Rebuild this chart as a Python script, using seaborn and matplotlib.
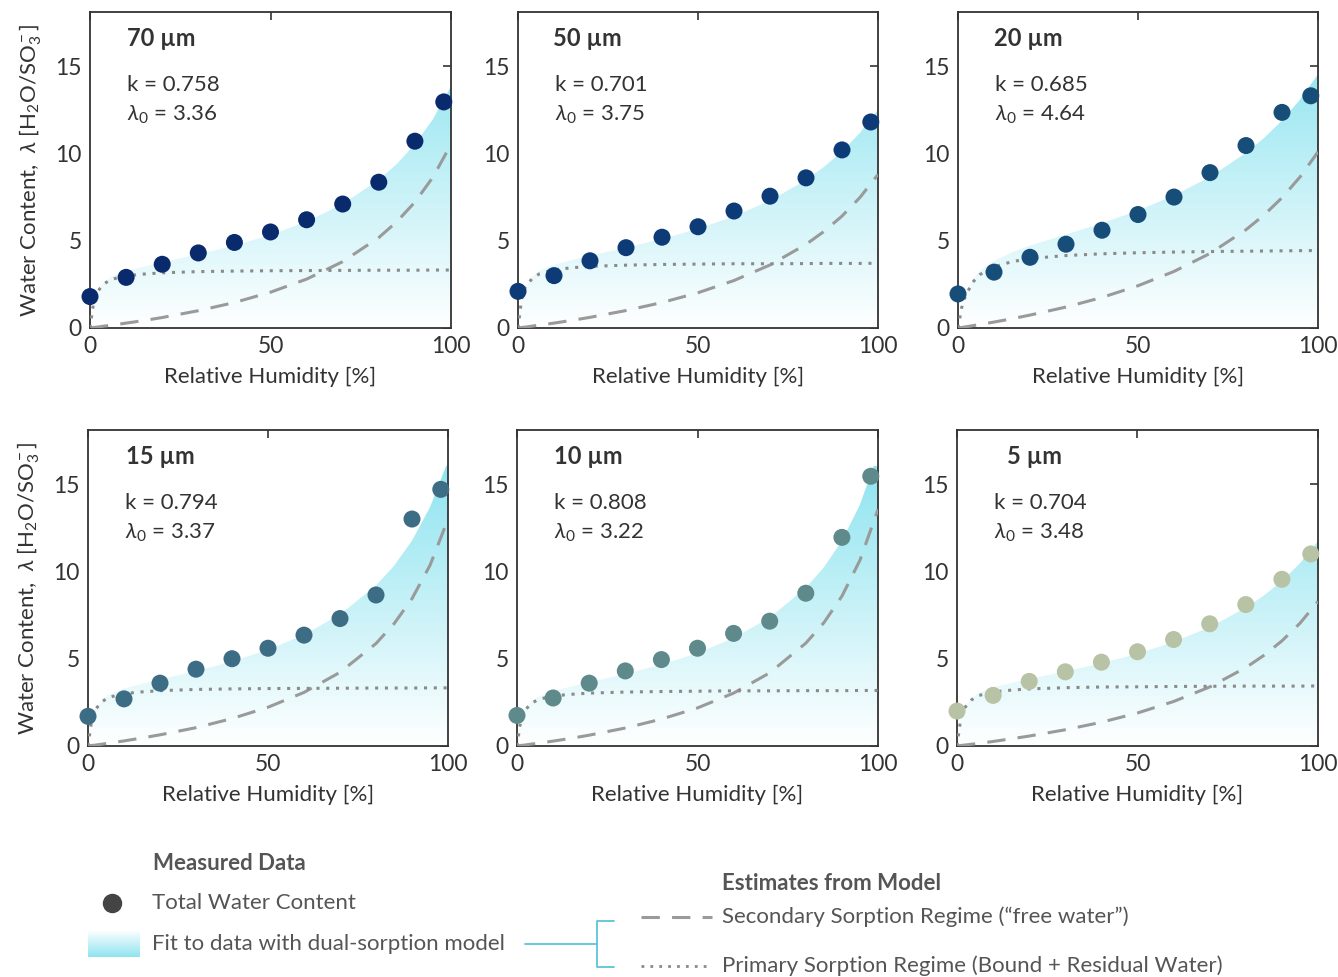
import numpy as np
import matplotlib
matplotlib.use("Agg")
import matplotlib.pyplot as plt
import seaborn as sns
from matplotlib.colors import LinearSegmentedColormap
from matplotlib.lines import Line2D

# ---- measured water content (lambda) vs RH ----
rh_meas = [0, 10, 20, 30, 40, 50, 60, 70, 80, 90, 98]
meas_70 = [1.8, 2.9, 3.65, 4.3, 4.9, 5.5, 6.2, 7.1, 8.35, 10.7, 12.95]
meas_50 = [2.1, 3.0, 3.85, 4.6, 5.2, 5.8, 6.7, 7.55, 8.6, 10.2, 11.8]
meas_20 = [1.95, 3.2, 4.05, 4.8, 5.6, 6.5, 7.5, 8.9, 10.45, 12.35, 13.3]
meas_15 = [1.7, 2.7, 3.6, 4.4, 5.0, 5.6, 6.35, 7.3, 8.65, 13.0, 14.7]
meas_10 = [1.75, 2.75, 3.6, 4.3, 4.95, 5.6, 6.45, 7.15, 8.75, 11.95, 15.45]
meas_5 = [2.0, 2.9, 3.7, 4.25, 4.8, 5.4, 6.1, 7.0, 8.1, 9.55, 11.0]

# ---- model curves ----
rh_fit = [0, 1, 2, 4, 6, 10, 15, 20, 30, 40, 50, 60, 70, 80, 85, 90, 95, 100]
prim_70 = [0, 1.48, 2.08, 2.55, 2.79, 2.99, 3.09, 3.16, 3.23, 3.26, 3.28, 3.29, 3.30, 3.31, 3.31, 3.31, 3.32, 3.32]
sec_70 = [0, 0.03, 0.05, 0.11, 0.16, 0.28, 0.43, 0.60, 0.99, 1.46, 2.05, 2.80, 3.80, 5.18, 6.09, 7.21, 8.64, 10.52]
tot_70 = [0, 1.51, 2.13, 2.66, 2.95, 3.27, 3.52, 3.76, 4.22, 4.72, 5.33, 6.09, 7.10, 8.49, 9.40, 10.52, 11.96, 13.84]
prim_50 = [0, 1.65, 2.33, 2.85, 3.11, 3.34, 3.45, 3.53, 3.60, 3.64, 3.66, 3.68, 3.68, 3.69, 3.70, 3.70, 3.70, 3.71]
sec_50 = [0, 0.03, 0.05, 0.11, 0.17, 0.28, 0.44, 0.61, 1.00, 1.46, 2.02, 2.72, 3.61, 4.79, 5.53, 6.41, 7.48, 8.79]
tot_50 = [0, 1.68, 2.38, 2.96, 3.28, 3.62, 3.89, 4.14, 4.60, 5.10, 5.68, 6.40, 7.29, 8.48, 9.23, 10.11, 11.18, 12.50]
prim_20 = [0, 1.15, 1.80, 2.60, 3.05, 3.50, 3.80, 3.98, 4.15, 4.25, 4.31, 4.35, 4.38, 4.40, 4.41, 4.42, 4.43, 4.44]
sec_20 = [0, 0.03, 0.06, 0.13, 0.20, 0.34, 0.53, 0.74, 1.20, 1.75, 2.42, 3.24, 4.27, 5.63, 6.47, 7.46, 8.65, 10.09]
tot_20 = [0, 1.18, 1.86, 2.73, 3.25, 3.84, 4.33, 4.72, 5.35, 6.00, 6.73, 7.59, 8.65, 10.03, 10.88, 11.88, 13.08, 14.53]
prim_15 = [0, 1.48, 2.09, 2.56, 2.80, 3.00, 3.10, 3.17, 3.24, 3.27, 3.29, 3.30, 3.31, 3.32, 3.32, 3.32, 3.33, 3.33]
sec_15 = [0, 0.03, 0.05, 0.11, 0.17, 0.29, 0.46, 0.64, 1.05, 1.57, 2.22, 3.07, 4.22, 5.87, 7.00, 8.44, 10.35, 12.99]
tot_15 = [0, 1.51, 2.14, 2.67, 2.97, 3.29, 3.56, 3.81, 4.29, 4.84, 5.51, 6.37, 7.53, 9.19, 10.32, 11.76, 13.68, 16.32]
prim_10 = [0, 1.42, 2.00, 2.45, 2.67, 2.87, 2.96, 3.03, 3.09, 3.12, 3.14, 3.16, 3.16, 3.17, 3.17, 3.17, 3.18, 3.18]
sec_10 = [0, 0.03, 0.05, 0.11, 0.16, 0.28, 0.44, 0.62, 1.03, 1.54, 2.18, 3.03, 4.19, 5.89, 7.06, 8.58, 10.64, 13.55]
tot_10 = [0, 1.45, 2.05, 2.56, 2.83, 3.15, 3.40, 3.65, 4.12, 4.66, 5.32, 6.19, 7.35, 9.06, 10.23, 11.75, 13.82, 16.73]
prim_5 = [0, 1.53, 2.16, 2.64, 2.89, 3.10, 3.20, 3.27, 3.34, 3.38, 3.39, 3.41, 3.42, 3.43, 3.43, 3.43, 3.43, 3.44]
sec_5 = [0, 0.03, 0.05, 0.10, 0.15, 0.26, 0.41, 0.57, 0.93, 1.36, 1.89, 2.55, 3.38, 4.49, 5.19, 6.02, 7.03, 8.28]
tot_5 = [0, 1.56, 2.21, 2.74, 3.04, 3.36, 3.61, 3.84, 4.27, 4.74, 5.28, 5.96, 6.80, 7.92, 8.62, 9.45, 10.46, 11.72]

thickness = ["70 µm", "50 µm", "20 µm", "15 µm", "10 µm", "5 µm"]
k_vals = ["0.758", "0.701", "0.685", "0.794", "0.808", "0.704"]
lam0_vals = ["3.36", "3.75", "4.64", "3.37", "3.22", "3.48"]
point_colors = ["#0a2a6e", "#0d3b77", "#174d79", "#3d6c85", "#5e8a8c", "#b8c2a4"]

meas = [meas_70, meas_50, meas_20, meas_15, meas_10, meas_5]
prim = [prim_70, prim_50, prim_20, prim_15, prim_10, prim_5]
sec = [sec_70, sec_50, sec_20, sec_15, sec_10, sec_5]
tot = [tot_70, tot_50, tot_20, tot_15, tot_10, tot_5]

sns.set_style("white")
plt.rcParams['font.family'] = ['Lato', 'DejaVu Sans']
plt.rcParams['mathtext.fontset'] = 'custom'
plt.rcParams['mathtext.rm'] = 'Lato'
plt.rcParams['mathtext.it'] = 'Lato:italic'
plt.rcParams['mathtext.bf'] = 'Lato:bold'

TXT = '#333333'
LEG = '#555555'
fit_cmap = LinearSegmentedColormap.from_list('fit', ['#ffffff', '#8fe4f0'])
grad = np.linspace(0, 1, 256).reshape(-1, 1)

fig = plt.figure(figsize=(13.38, 9.77), dpi=100)

W, H = 1338, 977
# axes boxes in pixels: left, top, right, bottom
boxes = [(90, 12, 451, 328), (518, 12, 878, 328), (958, 12, 1318, 328),
         (88, 430, 448, 746), (517, 430, 878, 746), (957, 430, 1318, 746)]
title_x = [10.2, 9.7, 10.0, 10.5, 10.3, 13.9]

for i, (l, t, r, b) in enumerate(boxes):
    ax = fig.add_axes([l / W, 1 - b / H, (r - l) / W, (b - t) / H])

    # gradient fill under total fit
    poly = ax.fill_between(rh_fit, 0, tot[i], facecolor='none', edgecolor='none')
    im = ax.imshow(grad, extent=[0, 100, 0, 16], origin='lower', aspect='auto',
                   cmap=fit_cmap, zorder=1, interpolation='bilinear')
    im.set_clip_path(poly.get_paths()[0], transform=ax.transData)

    sns.lineplot(x=rh_fit, y=sec[i], ax=ax, color='#9a9a9a', lw=2.2,
                 linestyle=(0, (6, 4)), sort=False, errorbar=None, zorder=3)
    sns.lineplot(x=rh_fit, y=prim[i], ax=ax, color='#8a8a8a', lw=2.2,
                 linestyle=(0, (1, 2.2)), sort=False, errorbar=None, zorder=3)
    sns.scatterplot(x=rh_meas, y=meas[i], ax=ax, color=point_colors[i], s=150,
                    edgecolor='none', zorder=5, clip_on=False)

    ax.set_xlim(0, 100)
    ax.set_ylim(0, 18.1)
    ax.set_xticks([0, 50, 100])
    ax.set_yticks([0, 5, 10, 15])
    ax.tick_params(direction='in', top=True, right=True, length=6, width=1.2,
                   labelsize=16.5, colors=TXT, pad=6)
    for sp in ax.spines.values():
        sp.set_color('#333333')
        sp.set_linewidth(1.3)
    ax.set_xlabel("Relative Humidity [%]", fontsize=16, color=TXT, labelpad=7)
    if i % 3 == 0:
        ax.set_ylabel(r"Water Content,  $\lambda$ [H$_2$O/SO$_3^-$]",
                      fontsize=16, color=TXT, labelpad=8)
    else:
        ax.set_ylabel("")

    ax.text(title_x[i], 16.6, thickness[i], fontsize=17, fontweight='bold',
            color=TXT, va='center')
    ax.text(10.2, 13.9, f"k = {k_vals[i]}", fontsize=16, color=TXT, va='center')
    ax.text(10.2, 12.2, r"$\lambda_0$" + f" = {lam0_vals[i]}", fontsize=16,
            color=TXT, va='center')

# ---- legend block ----
def fx(px):
    return px / W

def fy(py):
    return 1 - py / H

fig.text(fx(153), fy(863), "Measured Data", fontsize=16, fontweight='bold',
         color=LEG, va='center')
fig.add_artist(Line2D([fx(112)], [fy(903)], marker='o', markersize=13,
                      color='#444444', linestyle='none'))
fig.text(fx(152), fy(903), "Total Water Content", fontsize=16, color=LEG, va='center')

lax = fig.add_axes([fx(88), fy(957), fx(52), 26 / H])
lax.imshow(grad, extent=[0, 1, 0, 1], origin='upper', aspect='auto',
           cmap=fit_cmap, interpolation='bilinear')
lax.set_axis_off()
fig.text(fx(152), fy(944), "Fit to data with dual-sorption model", fontsize=16,
         color=LEG, va='center')

brk = '#5cc5d6'
fig.add_artist(Line2D([fx(525), fx(597)], [fy(944), fy(944)], color=brk, lw=1.3))
fig.add_artist(Line2D([fx(614), fx(597), fx(597), fx(614)],
                      [fy(921), fy(921), fy(967), fy(967)], color=brk, lw=1.3))

fig.text(fx(722), fy(884), "Estimates from Model", fontsize=16, fontweight='bold',
         color=LEG, va='center')
fig.add_artist(Line2D([fx(641), fx(712)], [fy(917), fy(917)], color='#9a9a9a',
                      lw=2.2, linestyle=(0, (6, 4))))
fig.text(fx(722), fy(917), "Secondary Sorption Regime (“free water”)", fontsize=16,
         color=LEG, va='center')
fig.add_artist(Line2D([fx(641), fx(712)], [fy(966), fy(966)], color='#8a8a8a',
                      lw=2.0, linestyle=(0, (1, 2.2))))
fig.text(fx(722), fy(966), "Primary Sorption Regime (Bound + Residual Water)",
         fontsize=16, color=LEG, va='center')

fig.savefig("out.png", dpi=100)
